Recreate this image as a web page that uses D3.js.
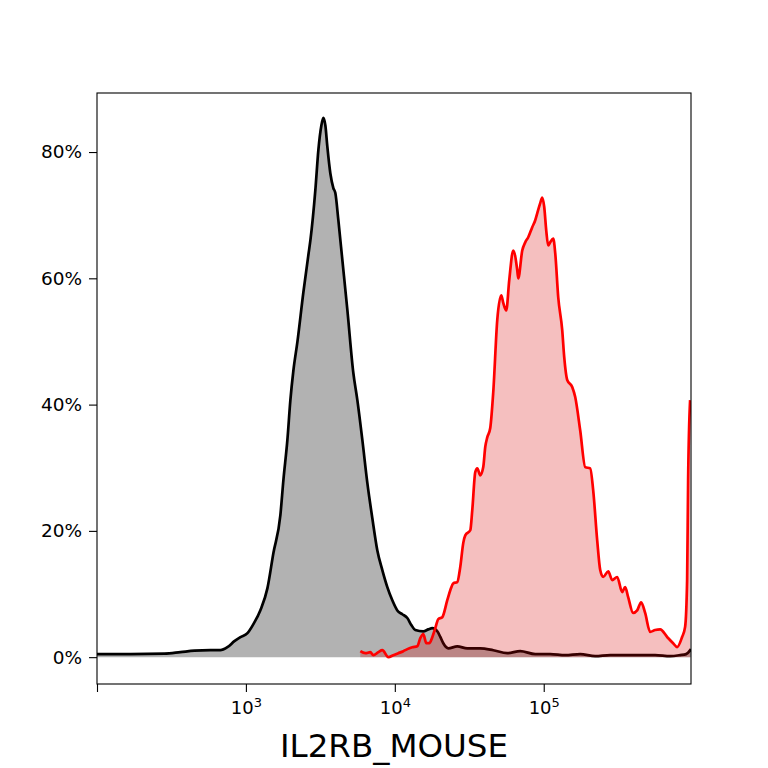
<!DOCTYPE html>
<html>
<head>
<meta charset="utf-8">
<script src="https://cdn.jsdelivr.net/npm/d3@7"></script>
<style>
  html, body { margin: 0; padding: 0; background: #fff; }
  svg { display: block; font-family: "DejaVu Sans", sans-serif; }
</style>
</head>
<body>
<svg id="chart" width="768" height="768"></svg>
<script>
// ---- data ----
const xLabel = "IL2RB_MOUSE";
const xDomain = [100, 975000];
const yDomain = [-4.25, 89.35];           // percent
const yTicks = [0, 20, 40, 60, 80];
const xTicks = [100, 1000, 10000, 100000];
const xTickLabels = ["", "3", "4", "5"];   // exponents of 10

// control sample (black)
const controlX = [100, 168, 284, 363, 451, 578, 674, 751, 837, 919, 1024, 1123, 1251, 1394, 1530, 1704, 1785, 1899, 1989, 2084,
  2216, 2432, 2627, 2710, 2927, 3066, 3212, 3313, 3417, 3524, 3691, 3866, 3987, 4177, 4443, 4800, 5266, 5603, 6052, 6538,
  7063, 7631, 8243, 8906, 9621, 10394, 11229, 12131, 12904, 13727, 15534, 16782, 17853, 19288, 20202, 21161, 22862, 26270, 30662, 37487,
  45830, 56890, 69560, 87690, 110560, 139400, 175800, 221600, 279400, 352300, 444200, 560100, 706200, 824200, 904300, 975000];
const controlY = [0.48, 0.48, 0.55, 0.79, 1.03, 1.11, 1.11, 1.58, 2.53, 3.17, 3.80, 5.23, 7.44, 10.9, 16.5, 22.5, 28.0, 34.4, 40.7, 45.4,
  49.9, 57.8, 63.7, 66.0, 74.0, 80.3, 84.2, 85.4, 84.2, 80.8, 76.6, 74.3, 73.5, 69.2, 62.9, 55.0, 45.0, 40.7, 34.4, 27.6,
  22.0, 16.9, 13.8, 11.1, 9.0, 7.4, 6.8, 6.2, 5.1, 4.3, 4.1, 4.4, 4.6, 4.1, 3.2, 2.2, 1.4, 1.7, 1.4, 1.4,
  1.1, 0.63, 0.95, 0.48, 0.48, 0.32, 0.48, 0.16, 0.32, 0.32, 0.32, 0.32, 0.16, 0.32, 0.48, 1.27];

// stained sample (red)
const stainedX = [5868, 6339, 6849, 7173, 7750, 8243, 9045, 9771, 10556, 11404, 12131, 13105, 14158, 14830, 15534, 16270, 17044, 17853, 18700, 19585,
  20834, 22508, 23577, 24694, 26270, 27516, 28825, 29728, 32116, 33124, 34695, 35784, 37487, 39260, 40490, 41760, 43740, 45830, 48750, 51860,
  53480, 56020, 58670, 62410, 66390, 67430, 71730, 75140, 78700, 83720, 87690, 90440, 94730, 97710, 100780, 103940, 107200, 110560, 115820, 119460,
  125130, 133110, 137290, 143800, 155350, 162720, 175800, 189910, 205170, 214900, 228600, 239500, 250800, 271000, 288300, 311400, 336400, 352300, 369000, 398600,
  424100, 451000, 479800, 518400, 560100, 605300, 674400, 739900, 787000, 849900, 890200, 918200, 932500, 961800];
const stainedY = [0.95, 0.63, 0.79, 0.32, 0.79, 1.11, 0.0, 0.32, 0.63, 0.95, 1.27, 1.58, 1.74, 3.01, 3.64, 2.22, 2.22, 3.17, 4.59, 6.02,
  6.33, 9.03, 10.6, 11.7, 11.9, 14.3, 18.1, 19.3, 20.1, 23.3, 29.3, 29.9, 28.8, 30.1, 33.3, 34.8, 36.3, 42.0, 53.4, 57.3,
  56.1, 54.9, 59.7, 64.4, 61.3, 60.0, 64.4, 65.7, 66.5, 68.1, 69.2, 70.3, 71.9, 72.8, 71.3, 67.6, 65.2, 65.7, 66.3, 64.0,
  57.0, 51.8, 47.5, 43.9, 42.8, 41.2, 35.9, 30.1, 29.9, 26.4, 18.5, 13.8, 12.7, 13.6, 12.2, 12.7, 10.3, 11.1, 9.5, 7.0,
  7.4, 8.7, 7.0, 4.0, 4.3, 4.4, 3.2, 2.2, 1.6, 3.2, 4.8, 12.2, 28.0, 40.7];

// ---- layout ----
const svg = d3.select("#chart");
const L = 97, R = 691, T = 93, B = 684;
const FONT = "'DejaVu Sans', sans-serif";

const x = d3.scaleLog().domain(xDomain).range([L, R]);
const y = d3.scaleLinear().domain(yDomain).range([B, T]);

const control = controlX.map((v, i) => [v, controlY[i]]);
const stained = stainedX.map((v, i) => [v, stainedY[i]]);

svg.append("defs").append("clipPath").attr("id", "clip")
  .append("rect").attr("x", L).attr("y", T).attr("width", R - L).attr("height", B - T);

const g = svg.append("g").attr("clip-path", "url(#clip)");

const area = d3.area().curve(d3.curveMonotoneX).x(d => x(d[0])).y0(y(0)).y1(d => y(d[1]));
const line = d3.line().curve(d3.curveMonotoneX).x(d => x(d[0])).y(d => y(d[1]));

g.append("path").datum(control).attr("d", area).attr("fill", "rgba(0,0,0,0.3)");
g.append("path").datum(control).attr("d", line).attr("fill", "none")
  .attr("stroke", "#000").attr("stroke-width", 2.7).attr("stroke-linejoin", "round");
g.append("path").datum(stained).attr("d", area).attr("fill", "rgba(215,0,0,0.25)");
g.append("path").datum(stained).attr("d", line).attr("fill", "none")
  .attr("stroke", "#ff0000").attr("stroke-width", 2.7).attr("stroke-linejoin", "round");

// ---- axes ----
const xAxis = d3.axisBottom(x).tickValues(xTicks).tickSize(8).tickPadding(6).tickFormat(() => "");
const xg = svg.append("g").attr("transform", `translate(0,${B})`).call(xAxis)
  .attr("font-family", FONT).attr("font-size", 18);
xg.select(".domain").remove();
xg.selectAll(".tick line").attr("stroke", "#000").attr("stroke-width", 1.1);
xg.selectAll(".tick text").each(function(d, i) {
  const t = d3.select(this);
  t.text(null).attr("fill", "#000").attr("dy", "0.9em");
  if (xTickLabels[i] !== "") {
    t.append("tspan").text("10");
    t.append("tspan").text(xTickLabels[i]).attr("font-size", 13).attr("dy", "-0.55em");
  }
});

const yAxis = d3.axisLeft(y).tickValues(yTicks).tickSize(8).tickPadding(7).tickFormat(d => d + "%");
const yg = svg.append("g").attr("transform", `translate(${L},0)`).call(yAxis)
  .attr("font-family", FONT).attr("font-size", 18.5);
yg.select(".domain").remove();
yg.selectAll(".tick line").attr("stroke", "#000").attr("stroke-width", 1.1);
yg.selectAll(".tick text").attr("fill", "#000");

svg.append("rect").attr("x", L).attr("y", T).attr("width", R - L).attr("height", B - T)
  .attr("fill", "none").attr("stroke", "#000").attr("stroke-width", 1.1);

svg.append("text").attr("x", (L + R) / 2).attr("y", 757).attr("text-anchor", "middle")
  .attr("font-family", FONT).attr("font-size", 32.5).attr("fill", "#000").text(xLabel);
</script>
</body>
</html>
